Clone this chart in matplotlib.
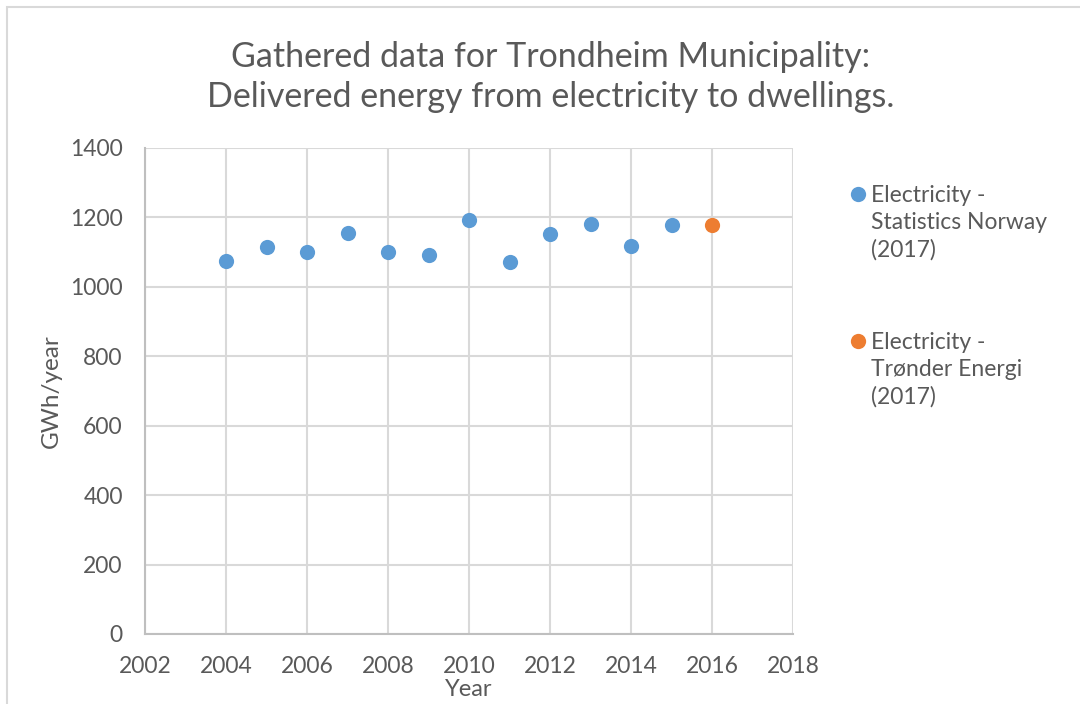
import matplotlib
matplotlib.use("Agg")
import matplotlib.pyplot as plt
from matplotlib.patches import Rectangle
from matplotlib.lines import Line2D

plt.rcParams["font.family"] = ["Lato", "DejaVu Sans"]

years_ssb = [2004, 2005, 2006, 2007, 2008, 2009, 2010, 2011, 2012, 2013, 2014, 2015]
gwh_ssb = [1075, 1115, 1100, 1154, 1100, 1093, 1193, 1071, 1153, 1182, 1119, 1177]
years_te = [2016]
gwh_te = [1179]

label_ssb = "Electricity -\nStatistics Norway\n(2017)"
label_te = "Electricity -\nTrønder Energi\n(2017)"
title = "Gathered data for Trondheim Municipality:\nDelivered energy from electricity to dwellings."

c_ssb = "#5B9BD5"
c_te = "#ED7D31"
txt = "#595959"
grid_c = "#d9d9d9"

fig = plt.figure(figsize=(10.8, 7.04), dpi=100)
ax = fig.add_axes([145 / 1080, 1 - 634 / 704, (793 - 145) / 1080, (634 - 148) / 704])

ax.scatter(years_ssb, gwh_ssb, s=120, color=c_ssb, zorder=3, linewidths=0)
ax.scatter(years_te, gwh_te, s=120, color=c_te, zorder=3, linewidths=0)

ax.set_xlim(2002, 2018)
ax.set_ylim(0, 1400)
ax.set_xticks(range(2002, 2019, 2))
ax.set_yticks(range(0, 1401, 200))
ax.grid(True, color=grid_c, linewidth=1.5, zorder=0)
for s in ["top", "right"]:
    ax.spines[s].set_visible(False)
for s in ["left", "bottom"]:
    ax.spines[s].set_color("#bfbfbf")
    ax.spines[s].set_linewidth(1.5)
ax.tick_params(length=0, labelsize=16.5, colors=txt)
ax.tick_params(axis="y", pad=16)
ax.tick_params(axis="x", pad=16)

fig.text(51 / 1080, 1 - 391 / 704, "GWh/year", rotation=90, ha="center", va="center",
         fontsize=17.5, color=txt)
fig.text(469 / 1080, 1 - 690 / 704, "Year", ha="center", va="center", fontsize=17, color=txt)
fig.text(551 / 1080, 1 - 77 / 704, title, ha="center", va="center", fontsize=24.5,
         color=txt, linespacing=1.33)

# legend, drawn by hand so the marker sits beside the first line of text
for label, color, y in [(label_ssb, c_ssb, 194), (label_te, c_te, 341)]:
    fig.add_artist(Line2D([858 / 1080], [1 - y / 704], marker="o", markersize=11,
                          color=color, markeredgewidth=0, transform=fig.transFigure))
    fig.text(871 / 1080, 1 - (y - 9) / 704, label, ha="left", va="top", fontsize=16.5,
             color=txt, linespacing=1.35)

fig.add_artist(Rectangle((7 / 1080, -0.1), 1.2, 1 - 7 / 704 + 0.1, transform=fig.transFigure,
                         fill=False, edgecolor="#d9d9d9", linewidth=1.5))

fig.savefig("out.png", dpi=100)
